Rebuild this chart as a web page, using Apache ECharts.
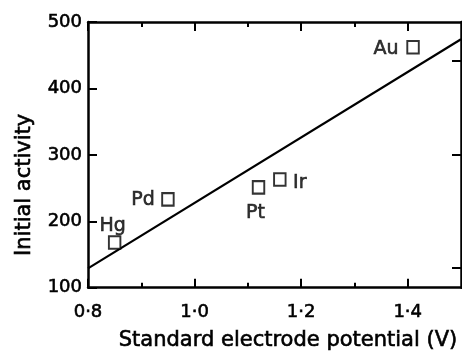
<!DOCTYPE html>
<html>
<head>
<meta charset="utf-8">
<script src="https://cdn.jsdelivr.net/npm/echarts@6/dist/echarts.min.js"></script>
<style>html,body{margin:0;padding:0;background:#fff;}#c{width:462px;height:356px;}</style>
</head>
<body>
<div id="c"></div>
<script>
// Data
var metals = ['Hg', 'Pd', 'Pt', 'Ir', 'Au'];
var potentials = [0.85, 0.95, 1.12, 1.16, 1.41];
var activities = [168, 233, 251, 263, 462];
var fitX = [0.8, 1.5];
var fitY = [129, 474];
var xTicks = [0.8, 1.0, 1.2, 1.4];
var xMinorTicks = [0.9, 1.1, 1.3];
var yTicks = [100, 200, 300, 400, 500];
var rightTicks = [130, 300, 442];
var labelOffsets = [[-2, -16], [-25, 1], [-3, 26], [20, 4], [-27, 2]];

var FONT = 'DejaVu Sans';
var fmtX = function (v) { return v.toFixed(1).replace('.', '\u00B7'); };

var chart = echarts.init(document.getElementById('c'), null, {renderer: 'canvas'});
var black = '#000';
var heavy = {textBorderColor: '#000', textBorderWidth: 0.6};
var baseX = {min: 0.8, max: 1.5, type: 'value', splitLine: {show: false}};
var option = {
  animation: false,
  backgroundColor: '#fff',
  grid: {left: 88, top: 22, width: 373, height: 275},
  xAxis: [
    Object.assign({}, baseX, {
      position: 'bottom',
      axisLine: {show: true, lineStyle: {color: black, width: 2.5}},
      axisTick: {show: true, inside: true, length: 9, lineStyle: {color: black, width: 2}, customValues: xTicks},
      axisLabel: Object.assign({show: true, customValues: xTicks, formatter: fmtX, fontFamily: FONT, fontSize: 18, color: black, margin: 16}, heavy),
      name: 'Standard electrode potential (V)',
      nameLocation: 'middle', nameGap: 42,
      nameTextStyle: Object.assign({fontFamily: FONT, fontSize: 21, color: black, padding: [0, 0, 0, 27]}, heavy)
    }),
    Object.assign({}, baseX, {
      position: 'bottom',
      axisLine: {show: false},
      axisTick: {show: true, inside: true, length: 5, lineStyle: {color: black, width: 2}, customValues: xMinorTicks},
      axisLabel: {show: false}
    }),
    Object.assign({}, baseX, {
      position: 'top',
      axisLine: {show: true, lineStyle: {color: black, width: 2.5}},
      axisTick: {show: true, inside: true, length: 9, lineStyle: {color: black, width: 2}, customValues: xTicks},
      axisLabel: {show: false}
    }),
    Object.assign({}, baseX, {
      position: 'top',
      axisLine: {show: false},
      axisTick: {show: true, inside: true, length: 5, lineStyle: {color: black, width: 2}, customValues: xMinorTicks},
      axisLabel: {show: false}
    })
  ],
  yAxis: [
    {
      type: 'value', min: 100, max: 500, interval: 100, position: 'left',
      splitLine: {show: false},
      axisLine: {show: true, lineStyle: {color: black, width: 2.5}},
      axisTick: {show: true, inside: true, length: 9, lineStyle: {color: black, width: 2}},
      axisLabel: Object.assign({show: true, fontFamily: FONT, fontSize: 18, color: black, margin: 6}, heavy),
      name: 'Initial activity', nameLocation: 'middle', nameGap: 53,
      nameTextStyle: Object.assign({fontFamily: FONT, fontSize: 21, color: black, padding: [0, 60, 0, 0]}, heavy)
    },
    {
      type: 'value', min: 100, max: 500, position: 'right',
      splitLine: {show: false},
      axisLine: {show: true, lineStyle: {color: black, width: 2.5}},
      axisTick: {show: true, inside: true, length: 9, lineStyle: {color: black, width: 2}, customValues: rightTicks},
      axisLabel: {show: false}
    }
  ],
  series: [
    {
      type: 'line', xAxisIndex: 0, yAxisIndex: 0,
      data: fitX.map(function (x, i) { return [x, fitY[i]]; }),
      symbol: 'none', lineStyle: {color: black, width: 2.2}, z: 2
    },
    {
      type: 'scatter', xAxisIndex: 0, yAxisIndex: 0,
      symbol: 'rect', symbolSize: [11.5, 12.5],
      itemStyle: {color: '#fff', borderColor: black, borderWidth: 2},
      z: 3,
      data: metals.map(function (m, i) {
        return {
          name: m, value: [potentials[i], activities[i]],
          label: Object.assign({show: true, position: 'inside', offset: labelOffsets[i], formatter: m,
                  fontFamily: FONT, fontSize: 19, color: black}, heavy)
        };
      })
    }
  ]
};
chart.setOption(option);
</script>
</body>
</html>
